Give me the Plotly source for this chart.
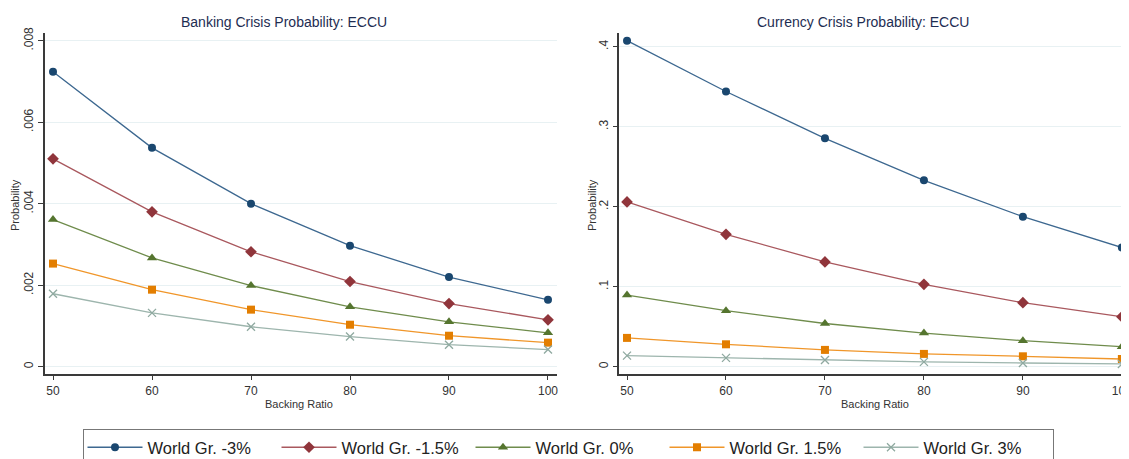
import plotly.graph_objects as go

backing_ratio = [50, 60, 70, 80, 90, 100]
series_names = ["World Gr. -3%", "World Gr. -1.5%", "World Gr. 0%", "World Gr. 1.5%", "World Gr. 3%"]

banking_m3 = [0.00724, 0.00537, 0.00400, 0.00297, 0.00220, 0.00164]
banking_m15 = [0.00510, 0.00380, 0.00282, 0.00209, 0.00155, 0.00115]
banking_0 = [0.00361, 0.00267, 0.00199, 0.00147, 0.00110, 0.00083]
banking_p15 = [0.00253, 0.00189, 0.00140, 0.00103, 0.00076, 0.00059]
banking_p3 = [0.00179, 0.00132, 0.00098, 0.00074, 0.00054, 0.00042]

currency_m3 = [0.4075, 0.344, 0.2855, 0.233, 0.1875, 0.149]
currency_m15 = [0.206, 0.1655, 0.131, 0.103, 0.080, 0.0625]
currency_0 = [0.0896, 0.070, 0.054, 0.042, 0.0325, 0.025]
currency_p15 = [0.036, 0.028, 0.021, 0.016, 0.013, 0.0096]
currency_p3 = [0.0138, 0.011, 0.0083, 0.006, 0.0046, 0.0034]

banking_ticks = [0, 0.002, 0.004, 0.006, 0.008]
banking_ticktext = ["0", ".002", ".004", ".006", ".008"]
currency_ticks = [0, 0.1, 0.2, 0.3, 0.4]
currency_ticktext = ["0", ".1", ".2", ".3", ".4"]
x_ticks = [50, 60, 70, 80, 90, 100]

colors = ["#1a476f", "#90353b", "#55752f", "#e37e00", "#8fa9a0"]
line_colors = ["#3d6890", "#a9585e", "#6f8c4c", "#f0962a", "#9db5ad"]
symbols = ["circle", "diamond", "triangle-up", "square", "x-thin"]
sizes = [8, 9, 9, 8, 8]

banking = [banking_m3, banking_m15, banking_0, banking_p15, banking_p3]
currency = [currency_m3, currency_m15, currency_0, currency_p15, currency_p3]

fig = go.Figure()
for i, name in enumerate(series_names):
    marker = dict(color=colors[i], symbol=symbols[i], size=sizes[i])
    if symbols[i] == "x-thin":
        marker["line"] = dict(color=colors[i], width=1.3)
    fig.add_trace(go.Scatter(x=backing_ratio, y=banking[i], name=name, mode="lines+markers",
                             line=dict(color=line_colors[i], width=1.3), marker=marker, cliponaxis=False,
                             xaxis="x", yaxis="y", legendgroup=name, showlegend=True))
for i, name in enumerate(series_names):
    marker = dict(color=colors[i], symbol=symbols[i], size=sizes[i])
    if symbols[i] == "x-thin":
        marker["line"] = dict(color=colors[i], width=1.3)
    fig.add_trace(go.Scatter(x=backing_ratio, y=currency[i], name=name, mode="lines+markers",
                             line=dict(color=line_colors[i], width=1.3), marker=marker, cliponaxis=False,
                             xaxis="x2", yaxis="y2", legendgroup=name, showlegend=False))

# page body has an 8px margin; work in screen pixels of the 1129x459 window
OFF = 8
W, H = 1129 - OFF, 458


def px(x):
    return (x - OFF) / W


def py(y):
    return 1 - (y - OFF) / H


font = "Liberation Sans, Arial, sans-serif"
axis_common = dict(showline=True, linecolor="#3a3a3a", linewidth=1.5, ticks="outside",
                   ticklen=5, tickcolor="#3a3a3a", tickfont=dict(size=12, color="#333", family=font),
                   zeroline=False, mirror=False, automargin=False, ticklabeloverflow="allow")
ydom = [py(373.7), py(32.7)]

fig.update_layout(
    width=W, height=H,
    margin=dict(l=0, r=0, t=0, b=0),
    paper_bgcolor="white", plot_bgcolor="white",
    font=dict(family=font, color="#333"),
    showlegend=True,
    xaxis=dict(domain=[px(44.5), px(556.7)], range=[49.14, 100.88], tickvals=x_ticks,
               showgrid=False, anchor="y", **axis_common),
    yaxis=dict(domain=ydom, range=[-0.000172, 0.008196], tickvals=banking_ticks,
               ticktext=banking_ticktext, tickangle=-90, showgrid=True, gridcolor="#e8f1f3",
               anchor="x", **axis_common),
    xaxis2=dict(domain=[px(619.3), 1.0], range=[49.22, 100.72], tickvals=x_ticks,
                showgrid=False, anchor="y2", **axis_common),
    yaxis2=dict(domain=ydom, range=[-0.00875, 0.4175], tickvals=currency_ticks,
                ticktext=currency_ticktext, tickangle=-90, showgrid=True, gridcolor="#e8f1f3",
                anchor="x2", **axis_common),
    legend=dict(orientation="h", x=px(568), xanchor="center", y=0, yanchor="bottom",
                bordercolor="#777", borderwidth=1, font=dict(size=16.5, color="#222", family=font),
                entrywidth=124, entrywidthmode="pixels", itemwidth=55, tracegroupgap=0),
    annotations=[
        dict(text="Banking Crisis Probability: ECCU", x=px(284), y=py(22), xref="paper", yref="paper",
             xanchor="center", yanchor="middle", showarrow=False,
             font=dict(size=14, color="#1e2d52", family=font)),
        dict(text="Currency Crisis Probability: ECCU", x=px(863), y=py(22), xref="paper", yref="paper",
             xanchor="center", yanchor="middle", showarrow=False,
             font=dict(size=14, color="#1e2d52", family=font)),
        dict(text="Probability", x=px(15), y=py(205), xref="paper", yref="paper", textangle=-90,
             xanchor="center", yanchor="middle", showarrow=False, font=dict(size=11, color="#333", family=font)),
        dict(text="Probability", x=px(592), y=py(205), xref="paper", yref="paper", textangle=-90,
             xanchor="center", yanchor="middle", showarrow=False, font=dict(size=11, color="#333", family=font)),
        dict(text="Backing Ratio", x=px(299), y=py(404), xref="paper", yref="paper",
             xanchor="center", yanchor="middle", showarrow=False, font=dict(size=11, color="#333", family=font)),
        dict(text="Backing Ratio", x=px(875), y=py(404), xref="paper", yref="paper",
             xanchor="center", yanchor="middle", showarrow=False, font=dict(size=11, color="#333", family=font)),
    ],
)

fig.write_html("out.html")
